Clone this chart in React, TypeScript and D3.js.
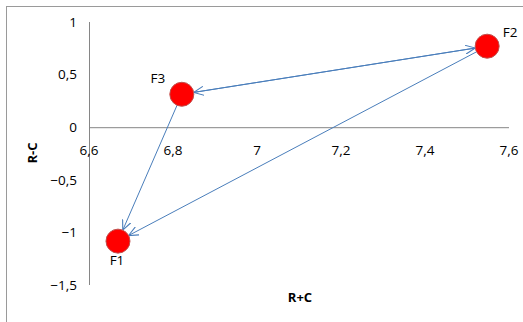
import React from 'react';
import * as d3 from 'd3';

// factor names and their (R+C, R-C) coordinates
const factors = ['F1', 'F2', 'F3'];
const rPlusC = [6.669, 7.548, 6.821];
const rMinusC = [-1.083, 0.77, 0.313];

// cause -> effect links (indices into factors)
const linkFrom = [2, 1, 2, 1];
const linkTo = [1, 2, 0, 0];

const xTicks = [6.6, 6.8, 7.0, 7.2, 7.4, 7.6];
const yTicks = [1, 0.5, 0, -0.5, -1, -1.5];

const width = 523;
const height = 322;
const font = '"Open Sans", "Liberation Sans", sans-serif';

const App = () => {
  const x = d3.scaleLinear().domain([6.6, 7.6]).range([89, 509]);
  const y = d3.scaleLinear().domain([-1.5, 1]).range([285, 22]);
  const fmt = (v: number) => d3.format('.1~f')(v).replace('.', ',');

  const r = 12;
  // label offsets relative to each marker
  const labelDx = [-1, 23, -24];
  const labelDy = [24, -9, -11];

  const links = linkFrom.map((f, i) => {
    const t = linkTo[i];
    const x1 = x(rPlusC[f]), y1 = y(rMinusC[f]);
    const x2 = x(rPlusC[t]), y2 = y(rMinusC[t]);
    const len = Math.hypot(x2 - x1, y2 - y1);
    const ux = (x2 - x1) / len, uy = (y2 - y1) / len;
    return {
      x1: x1 + ux * r, y1: y1 + uy * r,
      x2: x2 - ux * (r + 1), y2: y2 - uy * (r + 1),
    };
  });

  return (
    <svg width={width} height={height} style={{ position: 'absolute', left: 0, top: 0, background: '#fff' }}>
      <defs>
        <marker id="arr" viewBox="0 0 10 10" refX="9" refY="5" markerWidth="10" markerHeight="10"
          markerUnits="userSpaceOnUse" orient="auto">
          <path d="M0,0.5 L10,5 L0,9.5" fill="none" stroke="#4a7ebb" strokeWidth="1.1" />
        </marker>
      </defs>
      {/* chart border */}
      <rect x={6.5} y={6.5} width={width + 10} height={height + 10} fill="none" stroke="#9a9a9a" />

      {/* y axis */}
      <line x1={89.5} x2={89.5} y1={y(1)} y2={y(-1.5)} stroke="#868686" />
      {/* x axis at y=0 */}
      <line x1={x(6.6)} x2={x(7.6)} y1={y(0) + 0.5} y2={y(0) + 0.5} stroke="#868686" />

      {yTicks.map(t => (
        <text key={'y' + t} x={77} y={y(t)} dy="0.35em" textAnchor="end"
          fontFamily={font} fontSize={13.5} fill="#000">{fmt(t)}</text>
      ))}
      {xTicks.map(t => (
        <text key={'x' + t} x={x(t)} y={y(0) + 23} dy="0.35em" textAnchor="middle"
          fontFamily={font} fontSize={13.5} fill="#000">{fmt(t)}</text>
      ))}

      <text x={300} y={297} dy="0.35em" textAnchor="middle" fontFamily={font} fontSize={13}
        fontWeight="bold" fill="#000">R+C</text>
      <text transform="translate(32,153) rotate(-90)" dy="0.35em" textAnchor="middle" fontFamily={font}
        fontSize={13} fontWeight="bold" fill="#000">R-C</text>

      {links.map((l, i) => (
        <line key={'l' + i} x1={l.x1} y1={l.y1} x2={l.x2} y2={l.y2} stroke="#4a7ebb"
          strokeWidth={1} markerEnd="url(#arr)" />
      ))}

      {factors.map((f, i) => (
        <g key={f}>
          <circle cx={x(rPlusC[i])} cy={y(rMinusC[i])} r={r} fill="#ff0000" stroke="#c0504d" strokeWidth={1} />
          <text x={x(rPlusC[i]) + labelDx[i]} y={y(rMinusC[i]) + labelDy[i]} textAnchor="middle"
            fontFamily={font} fontSize={13.5} fill="#000">{f}</text>
        </g>
      ))}
    </svg>
  );
};

export default App;
